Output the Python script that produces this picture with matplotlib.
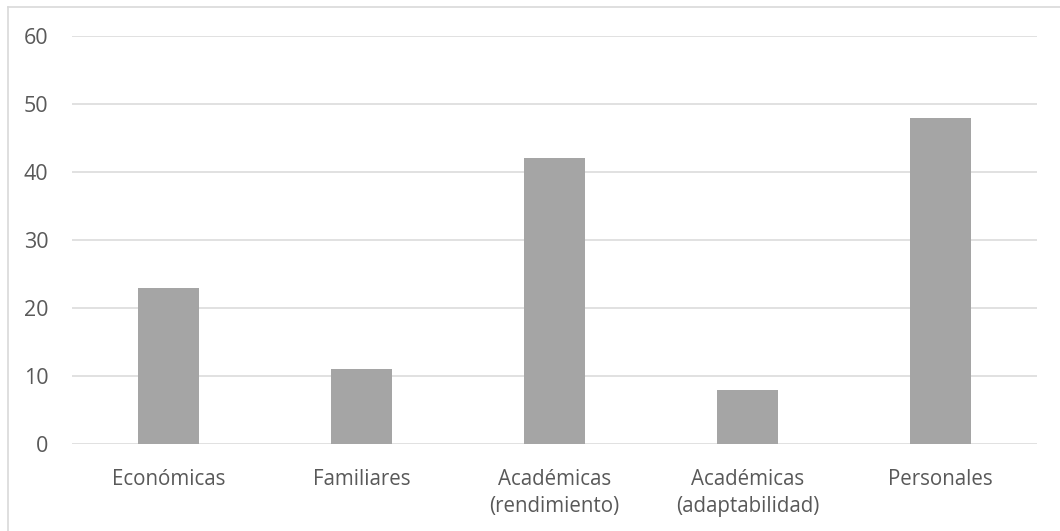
import matplotlib
matplotlib.use("Agg")
import matplotlib.pyplot as plt
from matplotlib.lines import Line2D

categories = ["Económicas", "Familiares", "Académicas\n(rendimiento)", "Académicas\n(adaptabilidad)", "Personales"]
values = [23, 11, 42, 8, 48]
yticks = [0, 10, 20, 30, 40, 50, 60]

plt.rcParams['font.family'] = ['Open Sans', 'DejaVu Sans']

fig = plt.figure(figsize=(10.6, 5.31), dpi=100)
ax = fig.add_axes([72/1060, 1-444/531, (1037-72)/1060, (444-36)/531])

x = list(range(len(categories)))
ax.bar(x, values, width=0.316, color="#A5A5A5", zorder=3)
ax.set_xlim(-0.5, len(categories)-0.5)
ax.set_ylim(0, 60)
ax.set_yticks(yticks)
ax.set_xticks(x)
ax.set_xticklabels(categories, fontsize=14.8, color="#595959", linespacing=1.4)
ax.tick_params(axis='y', labelsize=15.5, labelcolor="#595959", length=0, pad=17)
ax.tick_params(axis='x', length=0, pad=18)
ax.grid(axis='y', color="#D9D9D9", linewidth=1.1, zorder=0)
for s in ax.spines.values():
    s.set_visible(False)

# outer chart border (left and top visible)
fig.add_artist(Line2D([8/1060, 8/1060], [0, 1-7/531], transform=fig.transFigure, color="#D9D9D9", linewidth=1.2))
fig.add_artist(Line2D([8/1060, 1], [1-7/531, 1-7/531], transform=fig.transFigure, color="#D9D9D9", linewidth=1.2))

fig.savefig("out.png", dpi=100)
